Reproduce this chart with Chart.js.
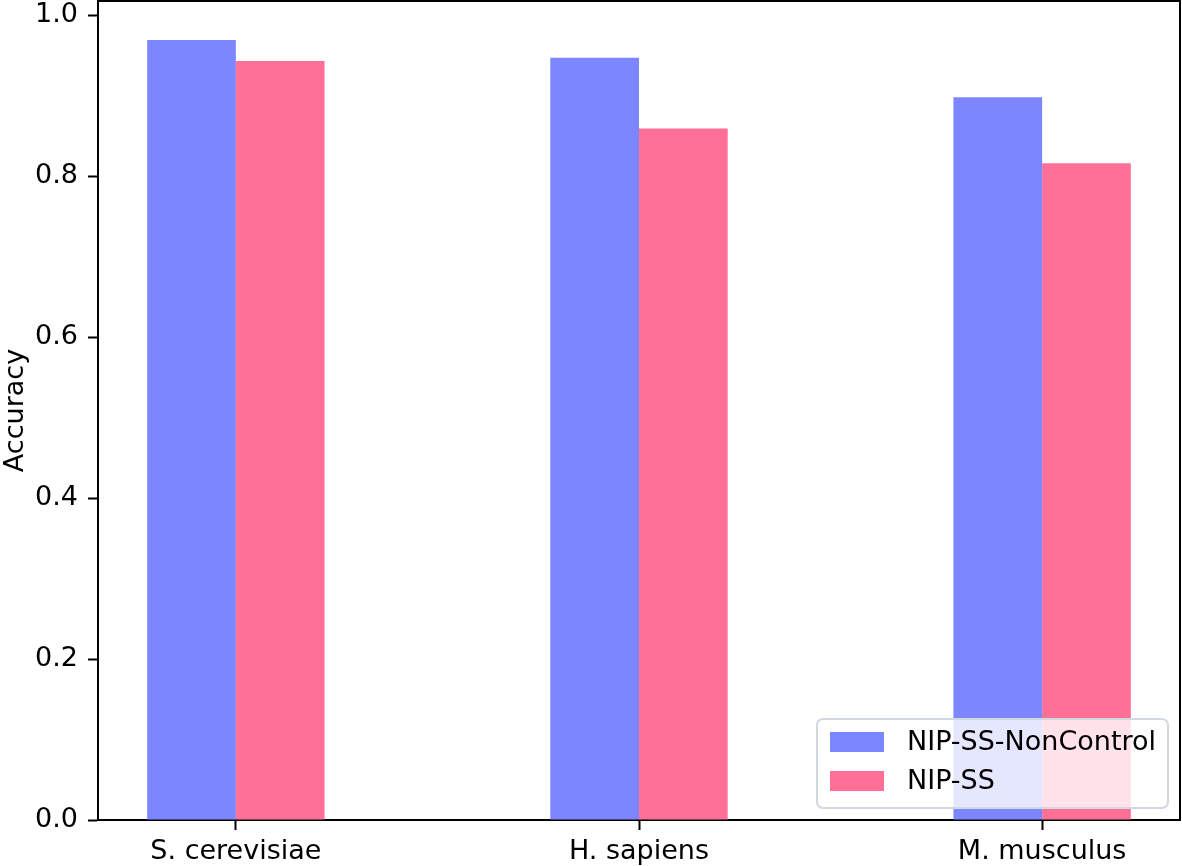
<!DOCTYPE html>
<html>
<head>
<meta charset="utf-8">
<script src="https://cdn.jsdelivr.net/npm/chart.js@4"></script>
<style>
  html, body { margin: 0; padding: 0; background: #fff; }
  #wrap { width: 1182px; height: 866px; position: relative; }
</style>
</head>
<body>
<div id="wrap"><canvas id="accChart"></canvas></div>
<script>
// data
const categories = ['S. cerevisiae', 'H. sapiens', 'M. musculus'];
const seriesNames = ['NIP-SS-NonControl', 'NIP-SS'];
const nonControl = [0.969, 0.947, 0.898];
const nipSS = [0.943, 0.859, 0.816];
const yTicks = [0.0, 0.2, 0.4, 0.6, 0.8, 1.0];

const colors = ['#7c87ff', '#ff6f96'];
const FONT = 'DejaVu Sans';

// top + right spines, like matplotlib's box
const boxPlugin = {
  id: 'box',
  afterDraw(chart) {
    const { ctx, chartArea: a } = chart;
    ctx.save();
    ctx.strokeStyle = '#000';
    ctx.lineWidth = 2;
    ctx.beginPath();
    ctx.moveTo(a.left, a.top);
    ctx.lineTo(a.right, a.top);
    ctx.lineTo(a.right, a.bottom);
    ctx.stroke();
    ctx.restore();
  }
};

// legend in the lower right corner of the axes
const legendPlugin = {
  id: 'boxLegend',
  afterDraw(chart) {
    const { ctx, chartArea: a } = chart;
    const w = 351, h = 89;
    const x = a.right - 12 - w, y = a.bottom - 12 - h;
    ctx.save();
    ctx.beginPath();
    ctx.roundRect(x, y, w, h, 6);
    ctx.fillStyle = 'rgba(255,255,255,0.8)';
    ctx.fill();
    ctx.strokeStyle = '#d2d8e0';
    ctx.lineWidth = 2;
    ctx.stroke();
    ctx.font = '27px "' + FONT + '"';
    ctx.textBaseline = 'middle';
    chart.data.datasets.forEach((ds, i) => {
      const ry = y + 13 + i * 39;
      ctx.fillStyle = ds.backgroundColor;
      ctx.fillRect(x + 13, ry, 54, 20);
      ctx.fillStyle = '#000';
      ctx.fillText(ds.label, x + 90, ry + 11);
    });
    ctx.restore();
  }
};

const ctx = document.getElementById('accChart').getContext('2d');
new Chart(ctx, {
  type: 'bar',
  data: {
    datasets: [
      { label: seriesNames[0], data: nonControl.map((v, i) => ({ x: i, y: v })), backgroundColor: colors[0] },
      { label: seriesNames[1], data: nipSS.map((v, i) => ({ x: i, y: v })), backgroundColor: colors[1] }
    ]
  },
  options: {
    responsive: true,
    maintainAspectRatio: false,
    animation: false,
    layout: { padding: { left: 0, top: 1, right: 2, bottom: 0 } },
    categoryPercentage: 0.44,
    barPercentage: 1.0,
    plugins: { legend: { display: false }, tooltip: { enabled: false } },
    scales: {
      x: {
        type: 'linear',
        min: -0.342,
        max: 2.342,
        offset: false,
        afterBuildTicks: s => { s.ticks = categories.map((c, i) => ({ value: i })); },
        afterFit: s => { s.height = 46; s.paddingLeft = 0; s.paddingRight = 0; },
        ticks: {
          callback: v => categories[v],
          color: '#000',
          font: { family: FONT, size: 27 },
          padding: 6,
          maxRotation: 0,
          autoSkip: false
        },
        grid: { drawOnChartArea: false, offset: false, tickLength: 10, tickColor: '#000', tickWidth: 2 },
        border: { display: true, color: '#000', width: 2 }
      },
      y: {
        min: 0,
        max: 1.0175,
        afterBuildTicks: s => { s.ticks = yTicks.map(v => ({ value: v })); },
        afterFit: s => { s.width = 98; s.paddingTop = 0; s.paddingBottom = 0; },
        ticks: {
          callback: v => v.toFixed(1),
          color: '#000',
          font: { family: FONT, size: 27 },
          padding: 10
        },
        grid: { drawOnChartArea: false, tickLength: 10, tickColor: '#000', tickWidth: 2 },
        border: { display: true, color: '#000', width: 2 },
        title: {
          display: true,
          text: 'Accuracy',
          color: '#000',
          font: { family: FONT, size: 27 },
          padding: { top: 0, bottom: 0 }
        }
      }
    }
  },
  plugins: [boxPlugin, legendPlugin]
});
</script>
</body>
</html>
